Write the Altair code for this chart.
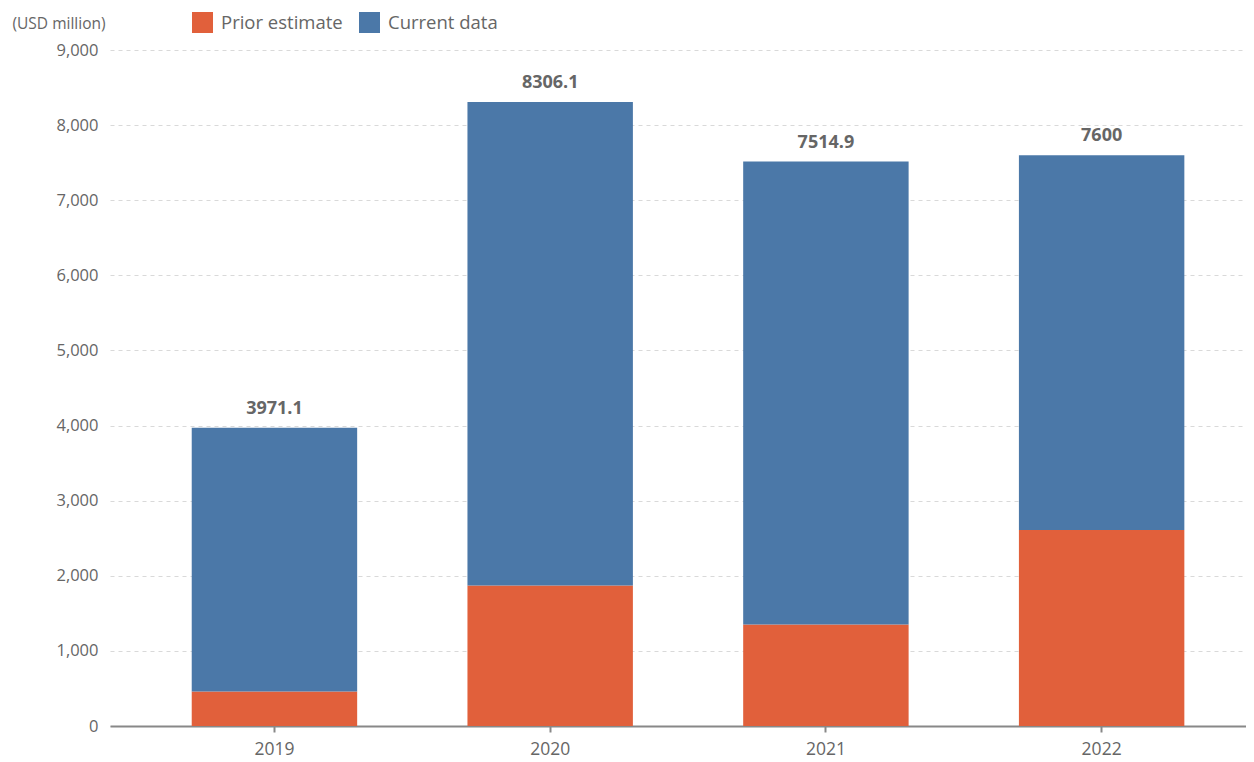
import altair as alt
import pandas as pd

years = ["2019", "2020", "2021", "2022"]
prior_estimate = [460, 1870, 1350, 2610]
current_data = [3511.1, 6436.1, 6164.9, 4990.0]
totals = [3971.1, 8306.1, 7514.9, 7600]
total_labels = ["3971.1", "8306.1", "7514.9", "7600"]
series = ["Prior estimate", "Current data"]
colors = ["#E1603B", "#4B78A8"]

rows = []
for i, y in enumerate(years):
    rows.append({"year": y, "series": series[0], "value": prior_estimate[i], "ord": 0})
    rows.append({"year": y, "series": series[1], "value": current_data[i], "ord": 1})
df = pd.DataFrame(rows)
tdf = pd.DataFrame({"year": years, "total": totals, "label": total_labels})

FONT = "Open Sans"
GRAY = "#666666"

xscale = alt.Scale(paddingInner=0.4, paddingOuter=0.26, align=0.57)

bars = alt.Chart(df).mark_bar().encode(
    x=alt.X("year:N", scale=xscale, sort=years,
            axis=alt.Axis(title=None, labelAngle=0, labelFontSize=17.5, labelColor=GRAY,
                          labelFont=FONT, labelPadding=8, tickColor="#888888", tickSize=6,
                          domainColor="#888888", domainWidth=2, tickWidth=2)),
    y=alt.Y("value:Q", stack="zero",
            scale=alt.Scale(domain=[0, 9000], nice=False),
            axis=alt.Axis(title="(USD million)", titleAngle=0, titleAlign="left",
                          titleBaseline="middle", titleX=-98, titleY=-27,
                          titleFontSize=15.5, titleFontWeight="normal", titleColor=GRAY,
                          titleFont=FONT,
                          values=list(range(0, 9001, 1000)), format=",.0f",
                          labelFontSize=16.5, labelColor=GRAY, labelFont=FONT, labelPadding=12,
                          domain=False, ticks=False, grid=True, gridDash=[4, 4],
                          gridColor="#d9d9d9")),
    color=alt.Color("series:N", scale=alt.Scale(domain=series, range=colors),
                    legend=alt.Legend(title=None, orient="none", direction="horizontal",
                                      legendX=82, legendY=-38, symbolType="square",
                                      symbolSize=441, symbolStrokeWidth=0,
                                      labelFontSize=18.5, labelColor=GRAY, labelFont=FONT,
                                      labelOffset=8, columnPadding=16)),
    order=alt.Order("ord:Q"),
)

labels = alt.Chart(tdf).mark_text(dy=-19, fontSize=18, fontWeight="bold", color=GRAY,
                                   font=FONT).encode(
    x=alt.X("year:N", sort=years),
    y=alt.Y("total:Q"),
    text="label:N",
)

chart = (bars + labels).properties(
    width=1136, height=676,
    autosize=alt.AutoSizeParams(type="none"),
    padding={"left": 102, "top": 42, "right": 0, "bottom": 40},
).configure(font=FONT, view=alt.ViewConfig(stroke=None))

chart.save("out.html", embed_options={"renderer": "svg", "actions": False})
